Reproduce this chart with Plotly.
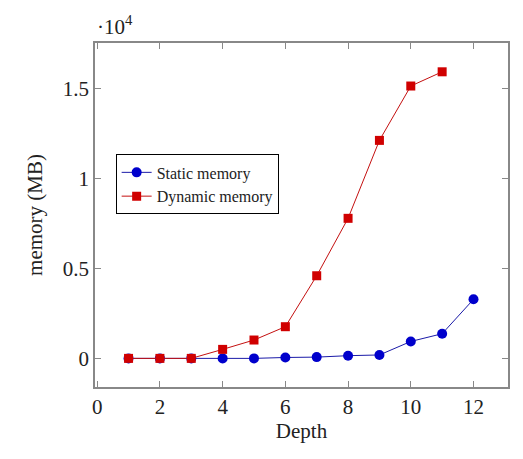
import plotly.graph_objects as go

# depth levels and memory usage in MB
depth_static = [1, 2, 3, 4, 5, 6, 7, 8, 9, 10, 11, 12]
static_mb = [0, 0, 0, 0, 0, 50, 70, 150, 190, 940, 1370, 3280]

depth_dynamic = [1, 2, 3, 4, 5, 6, 7, 8, 9, 10, 11]
dynamic_mb = [0, 0, 0, 500, 1020, 1760, 4590, 7780, 12110, 15130, 15920]

x_ticks = [0, 2, 4, 6, 8, 10, 12]
y_ticks = [0, 0.5, 1, 1.5]
y_tick_text = ["0", "0.5", "1", "1.5"]
scale = 1e4

serif = "Liberation Serif, DejaVu Serif, serif"
frame_col = "#888888"

fig = go.Figure()
fig.add_trace(go.Scatter(
    x=depth_static, y=[v / scale for v in static_mb],
    mode="lines+markers", name="Static memory",
    line=dict(color="#1a1aa8", width=1),
    marker=dict(symbol="circle", size=10, color="#0000cc"),
))
fig.add_trace(go.Scatter(
    x=depth_dynamic, y=[v / scale for v in dynamic_mb],
    mode="lines+markers", name="Dynamic memory",
    line=dict(color="#c41010", width=1),
    marker=dict(symbol="square", size=9, color="#d00000"),
))

axis_common = dict(
    showgrid=False, zeroline=False, mirror="ticks", showline=True,
    linecolor=frame_col, linewidth=1.5, ticks="inside", ticklen=6,
    tickcolor=frame_col, automargin=False,
    tickfont=dict(family=serif, size=21, color="#222"),
)

# page body has an 8px margin, so the figure is sized to fit inside it
fig.update_layout(
    width=507, height=443,
    margin=dict(l=87, r=7, t=35, b=64),
    plot_bgcolor="white", paper_bgcolor="white",
    font=dict(family=serif, color="#222"),
    xaxis=dict(range=[-0.07, 13.1], tickvals=x_ticks,
               title=dict(text="Depth", font=dict(family=serif, size=21), standoff=4),
               **axis_common),
    yaxis=dict(range=[-0.159, 1.752], tickvals=y_ticks, ticktext=y_tick_text,
               title=dict(text="memory (MB)", font=dict(family=serif, size=21), standoff=14),
               **axis_common),
    legend=dict(x=0.05, y=0.676, xanchor="left", yanchor="top",
                bgcolor="white", bordercolor="black", borderwidth=1,
                font=dict(family=serif, size=16), tracegroupgap=0),
    annotations=[dict(text="·10<sup>4</sup>", xref="paper", yref="paper",
                      x=0.0, y=1.005, xanchor="left", yanchor="bottom",
                      showarrow=False, font=dict(family=serif, size=21, color="#222"))],
)

fig.write_html("out.html")
